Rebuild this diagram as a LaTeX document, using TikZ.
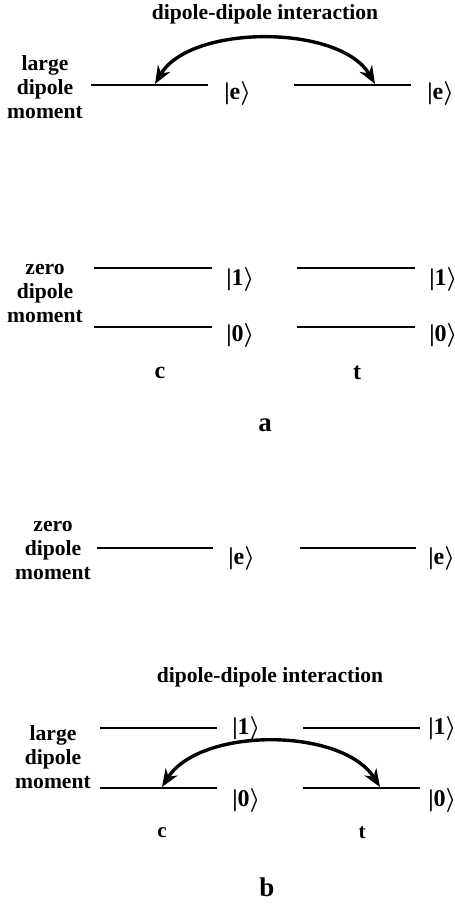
\documentclass[tikz,border=0pt]{standalone}
\usepackage{fontspec}
\setmainfont{Liberation Serif}
\usetikzlibrary{arrows.meta, positioning}

\newcommand\kt[1]{|#1{\boldmath$\rangle$}}

\begin{document}
\begin{tikzpicture}[x=0.5pt, y=-0.5pt, line width=1.4pt,
    >={Stealth[length=9pt, width=7pt]},
    every node/.style={font=\bfseries\fontsize{10.8}{12}\selectfont},
    side/.style={align=center},
    ket/.style={anchor=north west, inner sep=0pt, font=\bfseries\fontsize{12}{14}\selectfont},
    sub/.style={font=\bfseries\fontsize{12}{14}\selectfont},
    tag/.style={font=\bfseries\fontsize{13.5}{15}\selectfont},
    hop/.style={<->, line width=1.7pt}]
  \useasboundingbox (0,0) rectangle (455,905);

  % panel a: excited level carries the large dipole
  \node (ddA) at (265,14) {dipole-dipole interaction};
  \node[side] (momA1) at (45,87) {large\\dipole\\moment};
  \foreach \dx/\q in {0/c, 203/t} {
    \draw (91+\dx,85) -- (208+\dx,85) coordinate (eA\q);
    \node[ket] (keA\q) at (223+\dx,80) {\kt{e}};
  }
  \coordinate (hA1) at (155,84);
  \coordinate (hA2) at (375,84);
  \draw[hop] (hA1) .. controls (190,24) and (340,24) .. (hA2);

  % panel a: qubit levels, zero dipole
  \node[side] (momA0) at (45,293) {zero\\dipole\\moment};
  \foreach \dx/\q in {0/c, 203/t} {
    \draw (94+\dx,268) -- (212+\dx,268) coordinate (oneA\q);
    \draw (94+\dx,327) -- (212+\dx,327) coordinate (zeroA\q);
    \node[ket] (k1A\q) at (225+\dx,266) {\kt{1}};
    \node[ket] (k0A\q) at (225+\dx,322) {\kt{0}};
  }
  \node[sub] (cA) at (160,373) {c};
  \node[sub] (tA) at (357,373) {t};
  \node[tag] (labA) at (265,425) {a};

  % panel b: excited level, zero dipole
  \node[side] (momB0) at (53,550) {zero\\dipole\\moment};
  \foreach \dx/\q/\kx in {0/c/227, 203/t/427} {
    \draw (97+\dx,548) -- (213+\dx,548) coordinate (eB\q);
    \node[ket] (keB\q) at (\kx,545) {\kt{e}};
  }

  % panel b: qubit levels carry the large dipole
  \node (ddB) at (270,677) {dipole-dipole interaction};
  \node[side] (momB1) at (53,757) {large\\dipole\\moment};
  \foreach \dx/\q/\kx in {0/c/231, 203/t/427} {
    \draw (100+\dx,728) -- (217+\dx,728) coordinate (oneB\q);
    \draw (100+\dx,788) -- (217+\dx,788) coordinate (zeroB\q);
    \node[ket] (k1B\q) at (\kx,715) {\kt{1}};
    \node[ket] (k0B\q) at (\kx,787) {\kt{0}};
  }
  \coordinate (hB1) at (162,787);
  \coordinate (hB2) at (380,787);
  \draw[hop] (hB1) .. controls (200,727) and (342,727) .. (hB2);
  \node[font=\bfseries\fontsize{10.5}{12}\selectfont] (cB) at (162,833) {c};
  \node[font=\bfseries\fontsize{10.5}{12}\selectfont] (tB) at (362,833) {t};
  \node[tag] (labB) at (267,887) {b};
\end{tikzpicture}
\end{document}
